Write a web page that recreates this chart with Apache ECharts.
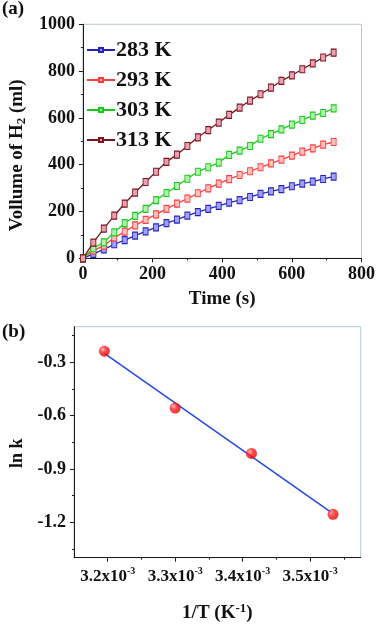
<!DOCTYPE html>
<html><head><meta charset="utf-8">
<script src="https://cdn.jsdelivr.net/npm/echarts@6/dist/echarts.min.js"></script>
<style>html,body{margin:0;padding:0;background:#fff}#c{width:378px;height:624px}</style>
</head><body><div id="c"></div>
<script>
// ---- Panel (a): volume of H2 vs time ----
const timeS = [0,30,60,90,120,150,180,210,240,270,300,330,360,390,420,450,480,510,540,570,600,630,660,690,720];
const vol283 = [0,19,38,60,78,97,115,132,150,165,182,197,211,224,238,249,262,275,286,296,308,319,328,339,349];
const vol293 = [0,33,54,88,114,141,164,188,211,234,255,278,299,319,338,356,372,389,406,422,439,456,470,486,497];
const vol303 = [0,43,68,111,150,181,211,249,279,309,340,370,389,409,442,460,480,511,531,551,571,591,610,621,641];
const vol313 = [0,67,127,182,234,281,326,370,412,443,480,517,548,580,613,644,674,701,729,758,782,808,833,858,879];
const seriesNames = ['283 K','293 K','303 K','313 K'];
const xTicksA = [0,200,400,600,800];
const yTicksA = [0,200,400,600,800,1000];

// ---- Panel (b): Arrhenius plot ----
const invT = [3.195,3.300,3.413,3.534];      // in units of 10^-3 K^-1
const lnK = [-0.238,-0.558,-0.813,-1.156];
const fitInvT = [3.195,3.534];
const fitLnK = [-0.25,-1.152];
const xTicksB = [3.2,3.3,3.4,3.5];
const xMinorB = [3.25,3.35,3.45,3.55];
const yTicksB = [-1.2,-0.9,-0.6,-0.3];
const yMinorB = [-1.35,-1.05,-0.75,-0.45,-0.15];

const FONT = 'Liberation Serif, Times New Roman, serif';
const lineCols = ['#2424b8','#ff3d3d','#18c818','#7a1420'];
const fillCols = ['#a0a0ff','#ffc0c0','#b0f0b0','#e8a0b0'];
const vols = [vol283, vol293, vol303, vol313];

const chart = echarts.init(document.getElementById('c'), null, {renderer:'canvas'});

const axisLineStyle = {show:true, lineStyle:{color:'#1a1a1a', width:1}};
const labelStyle = {fontFamily:FONT, fontWeight:'bold', fontSize:18, color:'#111'};

const seriesA = vols.map((v,i)=>({
  name: seriesNames[i], type:'line', xAxisIndex:0, yAxisIndex:0,
  data: timeS.map((t,j)=>[t, v[j]]),
  symbol:'rect', symbolSize:[5,7], showSymbol:true,
  lineStyle:{color:lineCols[i], width:1.3},
  itemStyle:{color:fillCols[i], borderColor:lineCols[i], borderWidth:1},
  z: 3+i, animation:false
}));

const option = {
  animation:false,
  backgroundColor:'#fff',
  textStyle:{fontFamily:FONT},
  grid:[
    {left:76, top:24.3, width:286.7, height:234, show:true, borderColor:'#b8c8d6', borderWidth:1, backgroundColor:'transparent'},
    {left:74, top:326.7, width:286.7, height:231, show:true, borderColor:'#b8c8d6', borderWidth:1, backgroundColor:'transparent'}
  ],
  legend:{
    data: seriesNames, orient:'vertical', left:81, top:34,
    itemWidth:28, itemHeight:5, itemGap:8,
    textStyle:{fontFamily:FONT, fontWeight:'bold', fontSize:22, color:'#111', lineHeight:22, padding:[0,0,0,-4]}
  },
  xAxis:[
    {type:'value', gridIndex:0, min:0, max:800, interval:200,
     name:'Time (s)', nameLocation:'middle', nameGap:31,
     nameTextStyle:{fontFamily:FONT, fontWeight:'bold', fontSize:19, color:'#111'},
     axisLine:axisLineStyle, axisTick:{show:true, inside:false, length:4, lineStyle:{color:'#1a1a1a'}},
     minorTick:{show:true, splitNumber:2, length:2, lineStyle:{color:'#1a1a1a'}},
     splitLine:{show:false}, axisLabel:Object.assign({margin:7, formatter:v=>String(v)}, labelStyle)},
    {type:'value', gridIndex:1, min:3.15, max:3.575,
     name:'{a|1/T (K}{s|-1}{a|)}', nameLocation:'middle', nameGap:44,
     nameTextStyle:{rich:{a:{fontFamily:FONT, fontWeight:'bold', fontSize:19, color:'#111'}, s:{fontFamily:FONT, fontWeight:'bold', fontSize:13, color:'#111', padding:[0,0,10,0]}}},
     axisLine:axisLineStyle,
     axisTick:{show:true, inside:false, length:4, customValues:xTicksB, lineStyle:{color:'#1a1a1a'}},
     splitLine:{show:false},
     axisLabel:{margin:9, customValues:xTicksB, formatter:v=>'{a|'+v.toFixed(1)+'x10}{s|-3}',
       rich:{a:{fontFamily:FONT, fontWeight:'bold', fontSize:17, color:'#111'}, s:{fontFamily:FONT, fontWeight:'bold', fontSize:10, color:'#111', padding:[0,0,10,0]}}}},
    {type:'value', gridIndex:1, min:3.15, max:3.575, position:'bottom',
     axisLine:{show:false}, axisTick:{show:true, inside:false, length:2, customValues:xMinorB, lineStyle:{color:'#1a1a1a'}},
     axisLabel:{show:false}, splitLine:{show:false}}
  ],
  yAxis:[
    {type:'value', gridIndex:0, min:0, max:1000, interval:200,
     name:'{a|Vollume of H}{s|2}{a| (ml)}', nameLocation:'middle', nameGap:50, nameRotate:90,
     nameTextStyle:{padding:[0,28,0,0], rich:{a:{fontFamily:FONT, fontWeight:'bold', fontSize:19, color:'#111'}, s:{fontFamily:FONT, fontWeight:'bold', fontSize:13, color:'#111', padding:[8,0,0,0]}}},
     axisLine:axisLineStyle, axisTick:{show:true, inside:false, length:4, lineStyle:{color:'#1a1a1a'}},
     minorTick:{show:true, splitNumber:2, length:2, lineStyle:{color:'#1a1a1a'}},
     splitLine:{show:false}, axisLabel:Object.assign({margin:8, formatter:v=>String(v)}, labelStyle)},
    {type:'value', gridIndex:1, min:-1.4, max:-0.1,
     name:'ln k', nameLocation:'middle', nameGap:46, nameRotate:90,
     nameTextStyle:{fontFamily:FONT, fontWeight:'bold', fontSize:18, color:'#111', padding:[0,22,0,0]},
     axisLine:axisLineStyle,
     axisTick:{show:true, inside:false, length:4, customValues:yTicksB, lineStyle:{color:'#1a1a1a'}},
     splitLine:{show:false},
     axisLabel:Object.assign({margin:8, customValues:yTicksB, formatter:v=>v.toFixed(1)}, labelStyle)},
    {type:'value', gridIndex:1, min:-1.4, max:-0.1, position:'left',
     axisLine:{show:false}, axisTick:{show:true, inside:false, length:2, customValues:yMinorB, lineStyle:{color:'#1a1a1a'}},
     axisLabel:{show:false}, splitLine:{show:false}}
  ],
  graphic:[
    {type:'text', left:2, top:0, style:{text:'(a)', font:'bold 19px '+FONT, fill:'#111'}},
    {type:'text', left:2, top:323, style:{text:'(b)', font:'bold 19px '+FONT, fill:'#111'}}
  ],
  series: seriesA.concat([
    {name:'fit', type:'line', xAxisIndex:1, yAxisIndex:1,
     data: fitInvT.map((x,i)=>[x, fitLnK[i]]), showSymbol:false, symbol:'none',
     lineStyle:{color:'#2448e0', width:1.5}, z:3},
    {name:'ln k', type:'scatter', xAxisIndex:1, yAxisIndex:1,
     data: invT.map((x,i)=>[x, lnK[i]]), symbol:'circle', symbolSize:11,
     itemStyle:{color:{type:'radial', x:0.35, y:0.35, r:0.7, colorStops:[{offset:0,color:'#ffb0b0'},{offset:0.4,color:'#ff2020'},{offset:1,color:'#e00000'}]}},
     z:4}
  ])
};
chart.setOption(option);
</script>
</body></html>
